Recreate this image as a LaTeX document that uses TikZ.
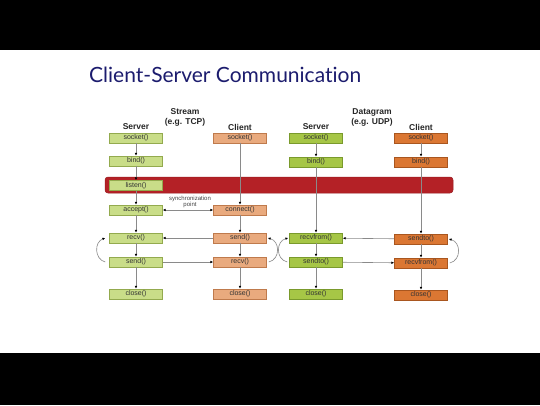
\documentclass[tikz,border=0pt]{standalone}
\usepackage{fontspec}
\setmainfont{Liberation Sans}
\newfontfamily\titlefont[Ligatures=NoCommon]{Lato}
\usetikzlibrary{arrows.meta}
\definecolor{tsfill}{HTML}{C9DD88}
\definecolor{tsdraw}{HTML}{93AA4E}
\definecolor{tcfill}{HTML}{E9AA7E}
\definecolor{tcdraw}{HTML}{BF7A4C}
\definecolor{usfill}{HTML}{A6C646}
\definecolor{usdraw}{HTML}{7A9A2C}
\definecolor{ucfill}{HTML}{DB7733}
\definecolor{ucdraw}{HTML}{A9561F}
\definecolor{barred}{HTML}{B42126}
\definecolor{navy}{HTML}{1C1C6E}
\definecolor{linegray}{HTML}{8A8A8A}
\tikzset{
  fn/.style={rectangle, minimum width=53pt, minimum height=10pt, inner sep=0pt,
    text height=5pt, text depth=1.5pt,
    line width=0.6pt, text=black!80, font=\fontsize{7}{7}\selectfont},
  ts/.style={fn, fill=tsfill, draw=tsdraw},
  tc/.style={fn, fill=tcfill, draw=tcdraw},
  us/.style={fn, fill=usfill, draw=usdraw},
  uc/.style={fn, fill=ucfill, draw=ucdraw},
  hdr/.style={font=\fontsize{8.5}{9}\selectfont\bfseries, text=black!85, inner sep=0pt},
  arr/.style={draw=linegray, line width=0.6pt, -{Latex[length=2.8pt,width=2.6pt,color=black]}},
  darr/.style={draw=linegray, line width=0.6pt, {Latex[length=2.8pt,width=2.6pt,color=black]}-{Latex[length=2.8pt,width=2.6pt,color=black]}},
}
\begin{document}
\begin{tikzpicture}[x=1pt,y=-1pt]
\useasboundingbox (0,0) rectangle (540,405);
\fill[white] (0,0) rectangle (540,405);
\fill[black] (0,0) rectangle (540,50);
\fill[black] (0,353) rectangle (540,405);

\node[anchor=base west, inner sep=0pt, text=navy, font=\titlefont\fontsize{21}{21}\selectfont] (title) at (89,82) {Client-Server Communication};

% headers
\node[hdr] (hstream) at (185,112) {Stream};
\node[hdr] (htcp) at (185,122) {(e.g. TCP)};
\node[hdr] (hdgram) at (372,112) {Datagram};
\node[hdr] (hudp) at (372,122) {(e.g. UDP)};
\node[hdr] (hts) at (136,127) {Server};
\node[hdr] (htc) at (240,127) {Client};
\node[hdr] (hus) at (316,127) {Server};
\node[hdr] (huc) at (421,127) {Client};

% red bar
\draw[fill=barred, draw=barred!85!black, line width=0.5pt, rounded corners=3pt] (105,177) rectangle (453,193);

% TCP server
\node[ts] (ss) at (136,138) {socket()};
\node[ts] (sb) at (136,161) {bind()};
\node[ts] (sl) at (136,185.5) {listen()};
\node[ts] (sa) at (136,210) {accept()};
\node[ts] (sr) at (136,238) {recv()};
\node[ts] (sse) at (136,262) {send()};
\node[ts] (sc) at (136,294) {close()};
% TCP client
\node[tc] (cs) at (240,138) {socket()};
\node[tc] (cc) at (240,210) {connect()};
\node[tc] (cse) at (240,238) {send()};
\node[tc] (cr) at (240,262) {recv()};
\node[tc] (ccl) at (240,294) {close()};
% UDP server
\node[us] (us) at (316,138) {socket()};
\node[us] (ub) at (316,162) {bind()};
\node[us] (urf) at (316,238) {recvfrom()};
\node[us] (ust) at (316,262) {sendto()};
\node[us] (ucl) at (316,294) {close()};
% UDP client
\node[uc] (ks) at (421,138) {socket()};
\node[uc] (kb) at (421,162) {bind()};
\node[uc] (kst) at (421,239) {sendto()};
\node[uc] (krf) at (421,263) {recvfrom()};
\node[uc] (kcl) at (421,295) {close()};

% sync label
\node[inner sep=0pt, font=\fontsize{6}{6.5}\selectfont, text=black!75, align=center] (sync) at (190,202) {synchronization\\point};

% vertical arrows
\draw[arr] (ss) -- (sb);
\draw[arr] (sb) -- (sl);
\draw[arr] (sl) -- (sa);
\draw[arr] (sa) -- (sr);
\draw[arr] (sr) -- (sse);
\draw[arr] (sse) -- (sc);
\draw[arr] (cs) -- (cc);
\draw[arr] (cc) -- (cse);
\draw[arr] (cse) -- (cr);
\draw[arr] (cr) -- (ccl);
\draw[arr] (us) -- (ub);
\draw[arr] (ub) -- (urf);
\draw[arr] (urf) -- (ust);
\draw[arr] (ust) -- (ucl);
\draw[arr] (ks) -- (kb);
\draw[arr] (kb) -- (kst);
\draw[arr] (kst) -- (krf);
\draw[arr] (krf) -- (kcl);

% horizontal arrows
\draw[darr] (sa) -- (cc);
\draw[arr] (cse) -- (sr);
\draw[arr] (sse) -- (cr);
\draw[arr] (kst) -- (urf);
\draw[arr] (ust) -- (krf);

% loops
\draw[arr] ([xshift=-4pt]sse.west) .. controls +(-11,-3) and +(-11,4) .. ([xshift=-4pt]sr.west);
\draw[arr] ([xshift=2pt]cr.east) .. controls +(12,-3) and +(12,3) .. ([xshift=1pt]cse.east);
\draw[arr] ([xshift=-2pt]ust.west) .. controls +(-12,-3) and +(-12,3) .. ([xshift=-1pt]urf.west);
\draw[arr] ([xshift=2pt]krf.east) .. controls +(12,-3) and +(12,3) .. ([xshift=1pt]kst.east);
\end{tikzpicture}
\end{document}
